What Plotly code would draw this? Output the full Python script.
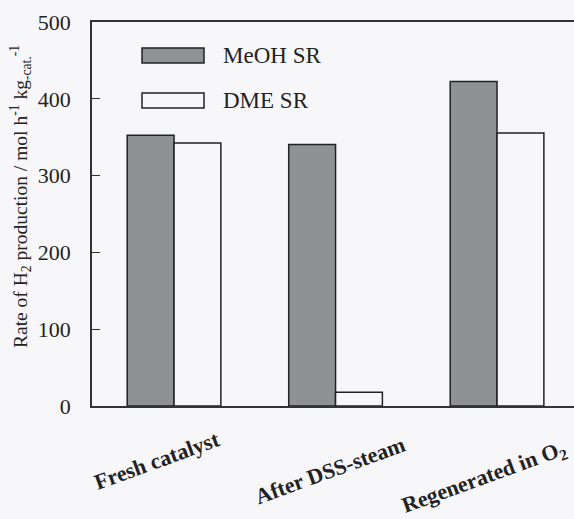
import plotly.graph_objects as go

categories = ["Fresh catalyst", "After DSS-steam", "Regenerated in O<sub>2</sub>"]
meoh_sr = [352.5, 340.5, 422.5]
dme_sr = [342.5, 18, 355.5]
series_names = ["MeOH SR", "DME SR"]
y_ticks = [0, 100, 200, 300, 400, 500]

W, H = 582, 519
ML, MR, MT, MB = 92, 0, 22, 113
PW, PH = W - ML - MR, H - MT - MB

BG = "#f7f7fa"
GRAY = "#8f9192"
EDGE = "#222222"
FONT = "Liberation Serif"

x = [0, 1, 2]
fig = go.Figure()
fig.add_trace(go.Bar(x=x, y=meoh_sr, name=series_names[0],
                     marker=dict(color=GRAY, line=dict(color=EDGE, width=1.5))))
fig.add_trace(go.Bar(x=x, y=dme_sr, name=series_names[1],
                     marker=dict(color=BG, line=dict(color=EDGE, width=1.5))))

def px_x(p):
    return (p - ML) / PW

def px_y(p):
    return (MT + PH - p) / PH

shapes = []
annotations = []
legend_rows = [(48, 63, 56, GRAY), (93, 108, 100, BG)]
for name, (y0, y1, yt, col) in zip(series_names, legend_rows):
    shapes.append(dict(type="rect", xref="paper", yref="paper",
                       x0=px_x(142), x1=px_x(204), y0=px_y(y1), y1=px_y(y0),
                       fillcolor=col, line=dict(color=EDGE, width=1.5)))
    annotations.append(dict(xref="paper", yref="paper", x=px_x(221), y=px_y(yt),
                            text=name, showarrow=False, xanchor="left", yanchor="middle",
                            font=dict(family=FONT, size=23, color="#222")))

# rotated category labels
label_offsets = [(-17, 460), (-6, 470), (-13, 478)]
for i, (cat, (dx, yc)) in enumerate(zip(categories, label_offsets)):
    annotations.append(dict(xref="x", yref="paper", x=x[i], y=px_y(yc), xshift=dx,
                            text="<b>" + cat + "</b>", showarrow=False, textangle=-20,
                            xanchor="center", yanchor="middle",
                            font=dict(family=FONT, size=22, color="#222")))

annotations.append(dict(xref="paper", yref="paper", x=px_x(20), y=px_y(197),
                        text="Rate of H<sub>2</sub> production / mol h<sup>-1</sup> kg<sub>-cat.</sub><sup>-1</sup>",
                        showarrow=False, textangle=-90, xanchor="center", yanchor="middle",
                        font=dict(family=FONT, size=19.5, color="#222")))

fig.update_layout(
    width=W, height=H,
    margin=dict(l=ML, r=MR, t=MT, b=MB, autoexpand=False),
    paper_bgcolor=BG, plot_bgcolor=BG,
    barmode="group", bargap=0.42, bargroupgap=0,
    showlegend=False,
    shapes=shapes, annotations=annotations,
    font=dict(family=FONT, color="#222"),
)
fig.update_xaxes(range=[-0.508, -0.508 + PW / 161.5], showticklabels=False, ticks="",
                 showgrid=False, zeroline=False, showline=True, linecolor="#333",
                 linewidth=1.5, mirror=True, automargin=False)
fig.update_yaxes(range=[0, 500], tickvals=y_ticks, ticks="inside", ticklen=8,
                 tickcolor="#333", tickwidth=1, showgrid=False, zeroline=False,
                 showline=True, linecolor="#333", linewidth=1.5, mirror=False,
                 ticklabelstandoff=15, automargin=False,
                 tickfont=dict(family=FONT, size=22, color="#222"))

fig.write_html("out.html", config={"displayModeBar": False},
               post_script="document.body.style.margin='0';document.body.style.overflow='hidden';document.body.style.background='#f7f7fa';")
